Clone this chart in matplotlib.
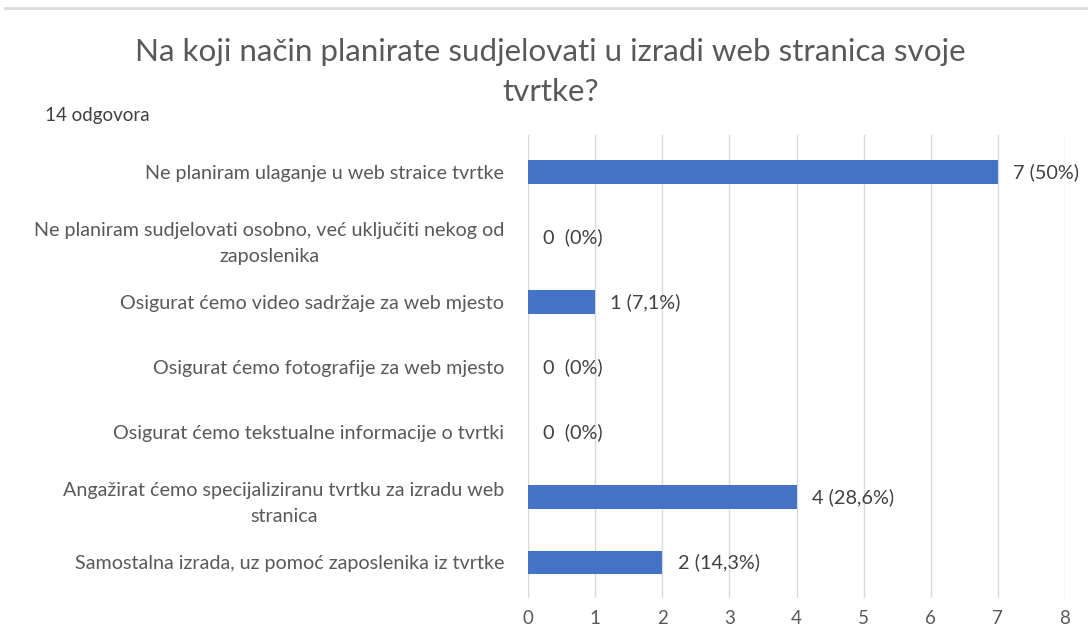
import matplotlib.pyplot as plt
from matplotlib.lines import Line2D

# Odgovori na anketno pitanje
kategorije = [
    'Ne planiram ulaganje u web straice tvrtke',
    'Ne planiram sudjelovati osobno, već uključiti nekog od\nzaposlenika',
    'Osigurat ćemo video sadržaje za web mjesto',
    'Osigurat ćemo fotografije za web mjesto',
    'Osigurat ćemo tekstualne informacije o tvrtki',
    'Angažirat ćemo specijaliziranu tvrtku za izradu web\nstranica',
    'Samostalna izrada, uz pomoć zaposlenika iz tvrtke',
]
broj_odgovora = [7, 0, 1, 0, 0, 4, 2]
postotci = ['50%', '0%', '7,1%', '0%', '0%', '28,6%', '14,3%']
x_oznake = [0, 1, 2, 3, 4, 5, 6, 7, 8]

plt.rcParams['font.family'] = ['Lato', 'DejaVu Sans']

fig = plt.figure(figsize=(10.88, 6.32), dpi=100)
fig.patch.set_facecolor('white')
ax = fig.add_axes([0.4853, 0.0538, 0.4936, 0.7326])

y = list(range(len(kategorije)))
ax.barh(y, broj_odgovora, height=0.36, color='#4472C4', zorder=3)

for yi, v, p in zip(y, broj_odgovora, postotci):
    txt = f'{v}  ({p})' if v == 0 else f'{v} ({p})'
    ax.annotate(txt, (v, yi), xytext=(11, 0), textcoords='offset points',
                ha='left', va='center', fontsize=14.3, color='#404040')

ax.set_yticks(y)
ax.set_yticklabels(kategorije, fontsize=14.2, color='#595959',
                   multialignment='center', linespacing=1.65)
ax.set_ylim(len(kategorije) - 0.45, -0.57)
ax.set_xlim(0, 8)
ax.set_xticks(x_oznake)
ax.set_xticklabels([str(t) for t in x_oznake], fontsize=13.5, color='#595959')
ax.tick_params(axis='both', length=0)
ax.tick_params(axis='y', pad=17)
ax.tick_params(axis='x', pad=9)
ax.grid(axis='x', color='#d9d9d9', linewidth=1, zorder=0)
for s in ax.spines.values():
    s.set_visible(False)

fig.text(0.506, 0.886, 'Na koji način planirate sudjelovati u izradi web stranica svoje\ntvrtke?',
         ha='center', va='center', fontsize=22.6, color='#595959', linespacing=1.5)
fig.text(0.041, 0.818, '14 odgovora', ha='left', va='center', fontsize=13.5, color='#404040')

# tanka siva linija uz gornji rub
fig.add_artist(Line2D([0.005, 1.0], [0.987, 0.987], color='#dadce0', linewidth=2,
                      transform=fig.transFigure))

fig.savefig('out.png', dpi=100, facecolor='white')
